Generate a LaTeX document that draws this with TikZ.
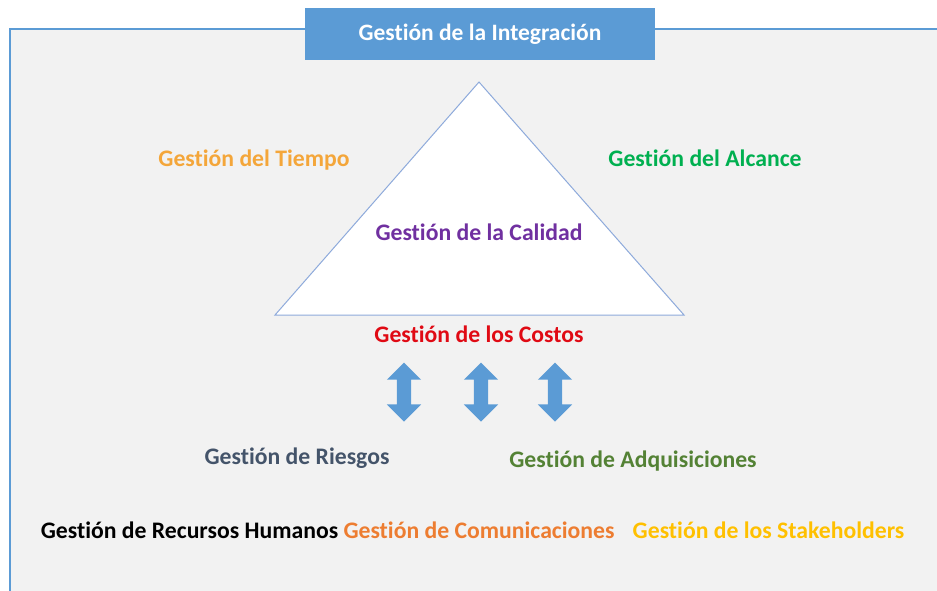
\documentclass[tikz,border=0pt]{standalone}
\usepackage{fontspec}
\setmainfont{Carlito}[Ligatures={NoCommon}]
\usetikzlibrary{shapes.arrows}
\definecolor{frameblue}{HTML}{5B9BD5}
\definecolor{trieline}{HTML}{8EAADB}
\definecolor{bgray}{HTML}{F2F2F2}
\definecolor{cTiempo}{HTML}{F4A63A}
\definecolor{cAlcance}{HTML}{00B050}
\definecolor{cCalidad}{HTML}{7030A0}
\definecolor{cCostos}{HTML}{E00A14}
\definecolor{cRiesgos}{HTML}{44546A}
\definecolor{cAdq}{HTML}{548235}
\definecolor{cComm}{HTML}{ED7D31}
\definecolor{cStake}{HTML}{FFC000}
\begin{document}
\begin{tikzpicture}[x=1pt,y=-1pt,
  lbl/.style={font=\fontsize{23.7}{28}\selectfont\bfseries, inner sep=0pt, anchor=base},
  titlebox/.style={rectangle, fill=frameblue, minimum width=350pt, minimum height=52pt, inner sep=0pt, text=white, font=\fontsize{23.5}{28}\selectfont\bfseries},
  darrow/.style={double arrow, fill=frameblue, draw=none, rotate=90, minimum height=59pt, inner xsep=0pt, inner ysep=7pt, double arrow head extend=10pt}]
\useasboundingbox (0,0) rectangle (937,590);
\clip (0,0) rectangle (937,590);
\fill[white] (0,0) rectangle (937,590);
\draw[frameblue, line width=2pt, fill=bgray] (10,29) rectangle (960,620);
\node[titlebox] (integ) at (480,34) {Gestión de la Integración};
\coordinate (apex) at (479,82);
\coordinate (bl) at (275,315);
\coordinate (br) at (684,315);
\draw[trieline, line width=1pt, fill=white] (apex) -- (br) -- (bl) -- cycle;
\node[lbl, text=cTiempo] (tiempo) at (254,166) {Gestión del Tiempo};
\node[lbl, text=cAlcance] (alcance) at (705,166) {Gestión del Alcance};
\node[lbl, text=cCalidad] (calidad) at (479,240) {Gestión de la Calidad};
\node[lbl, text=cCostos] (costos) at (479,342) {Gestión de los Costos};
\node[darrow] (a1) at (404,392) {};
\node[darrow] (a2) at (481,392) {};
\node[darrow] (a3) at (555,392) {};
\node[lbl, text=cRiesgos] (riesgos) at (297,464) {Gestión de Riesgos};
\node[lbl, text=cAdq] (adq) at (633,467) {Gestión de Adquisiciones};
\node[lbl, text=black] (rrhh) at (189.5,538) {Gestión de Recursos Humanos};
\node[lbl, text=cComm] (comm) at (479,538) {Gestión de Comunicaciones};
\node[lbl, text=cStake] (stake) at (768.5,538) {Gestión de los Stakeholders};
\end{tikzpicture}
\end{document}
